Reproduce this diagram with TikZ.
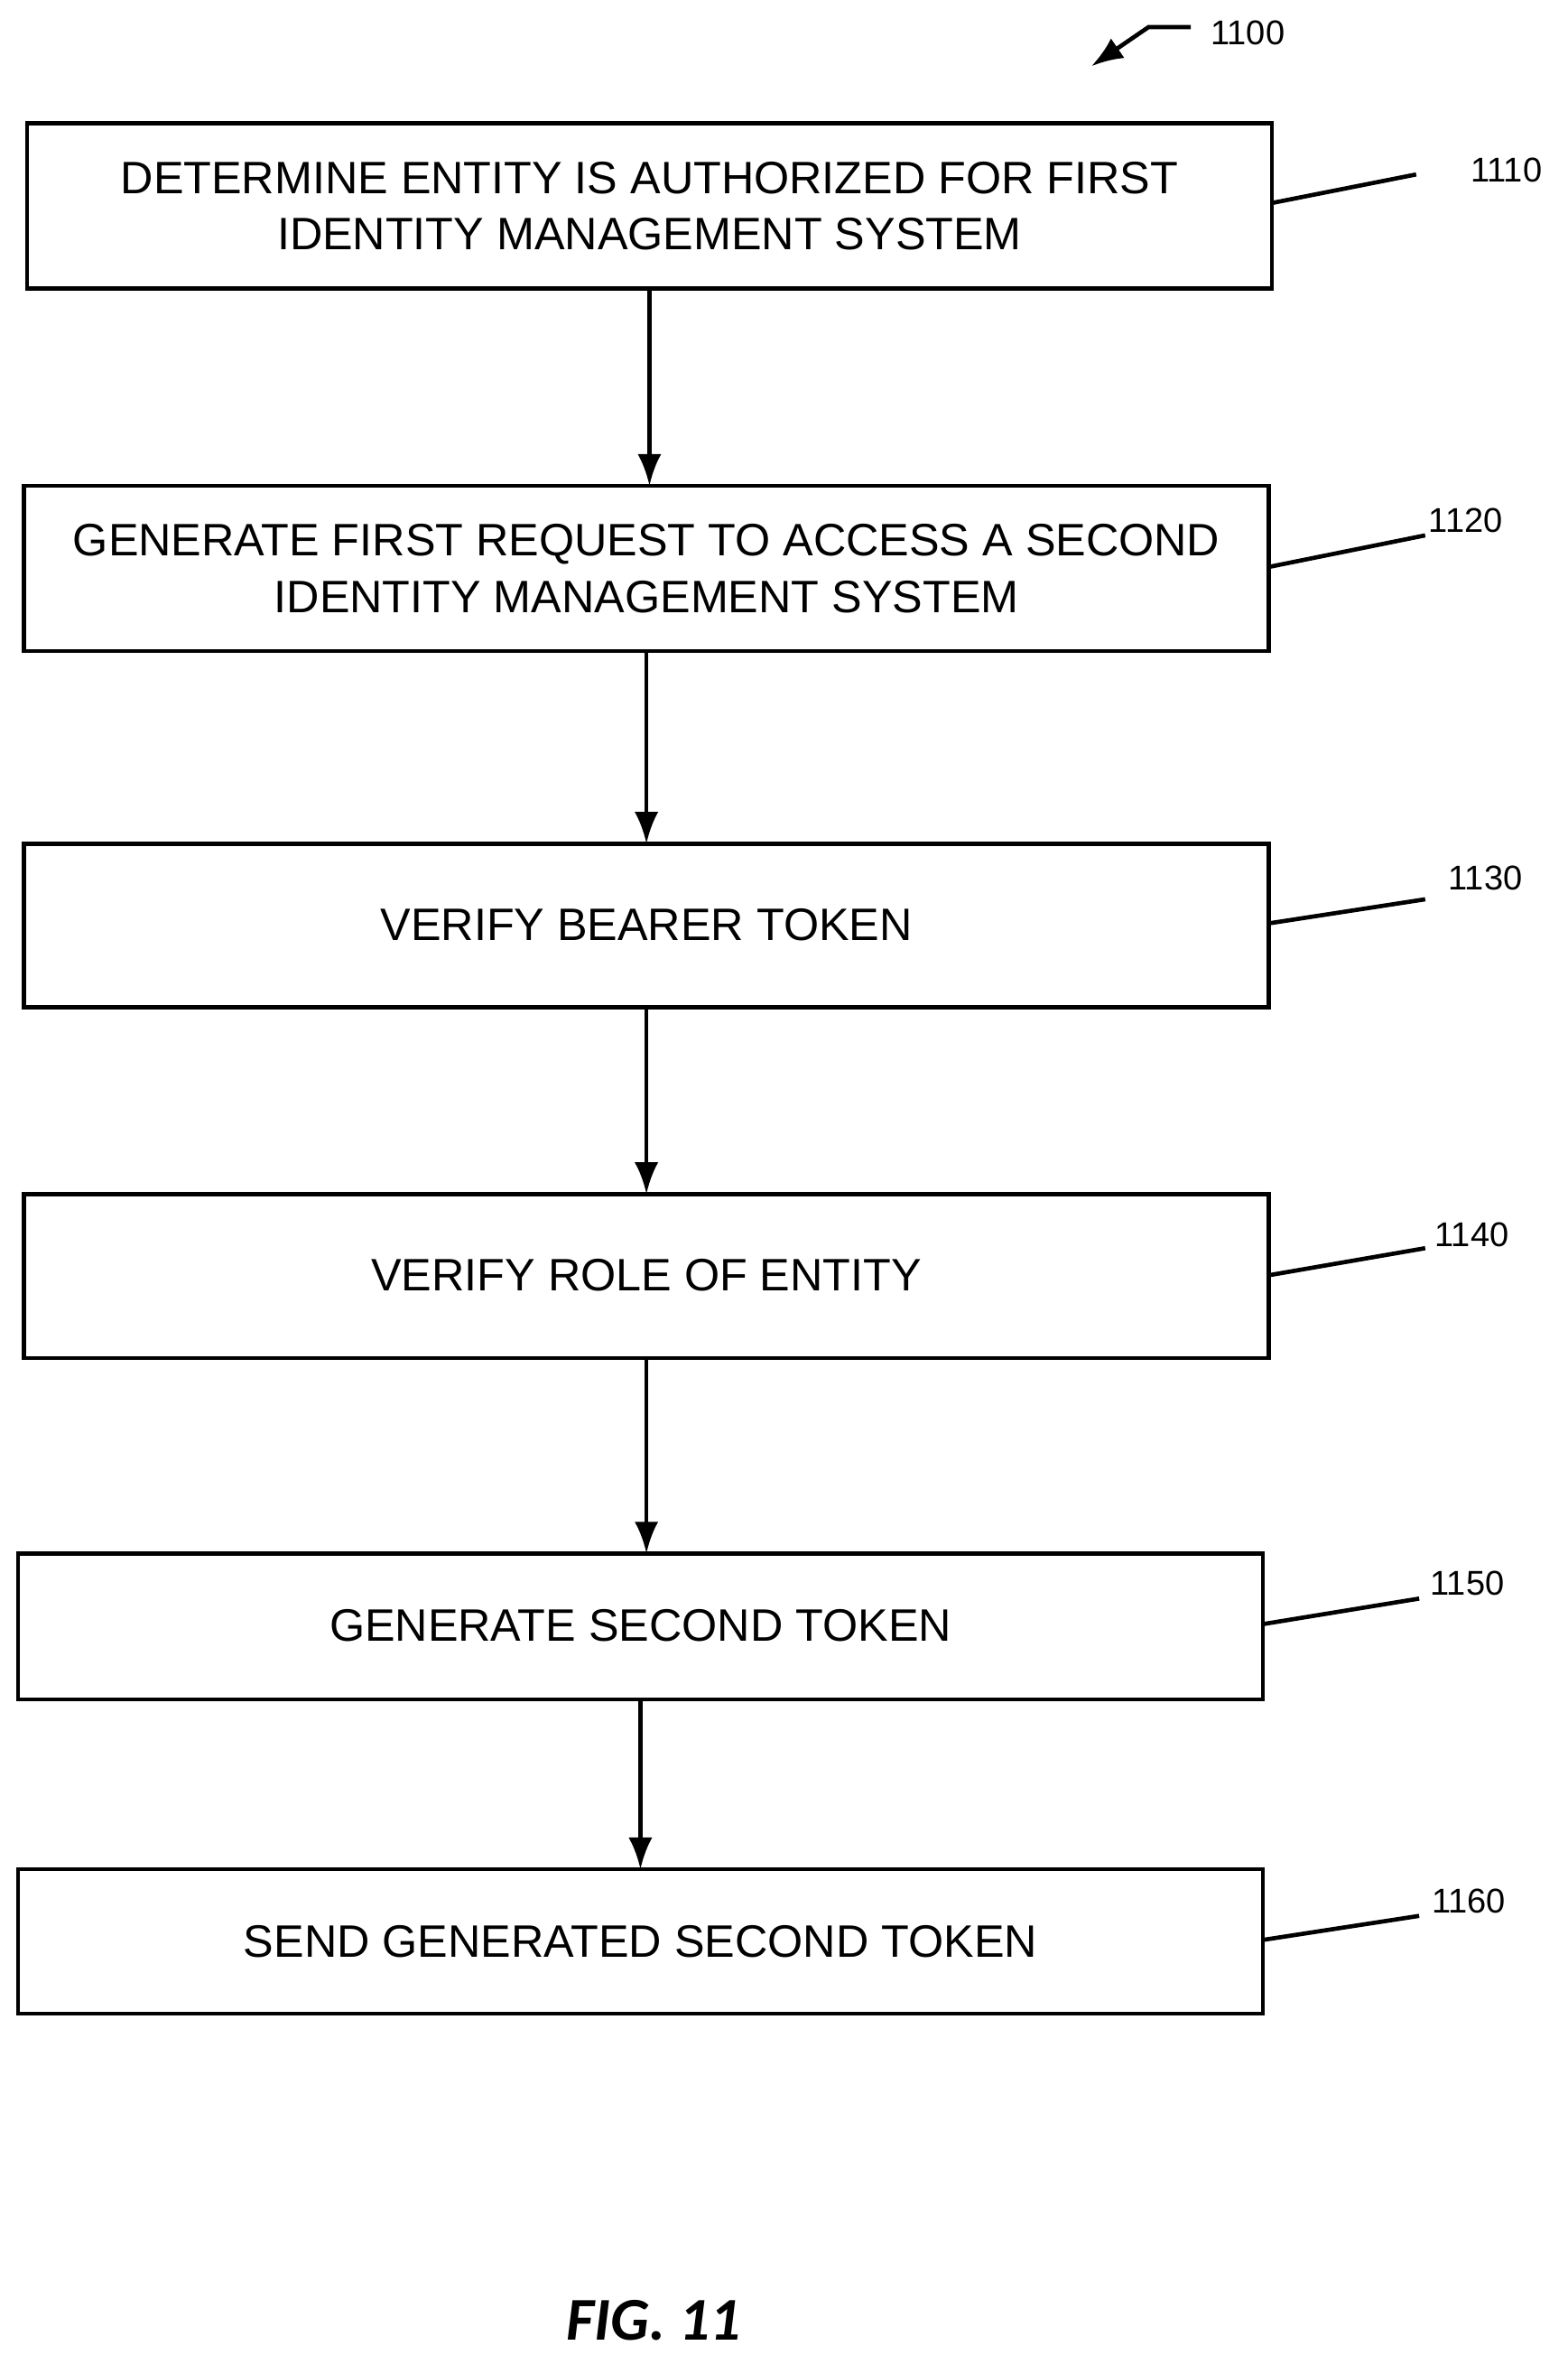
\documentclass[tikz,border=0pt]{standalone}
\usepackage{fontspec}
\setmainfont{Liberation Sans}
\newfontfamily\figfont{Carlito}
\usetikzlibrary{arrows.meta}
\begin{document}
\begin{tikzpicture}[x=0.02cm,y=-0.02cm,
  box/.style={draw,line width=1.6pt,inner sep=0pt},
  txt/.style={font=\fontsize{17.2}{21.5}\selectfont,align=center},
  lbl/.style={font=\fontsize{13}{15}\selectfont},
  arr/.style={line width=1.6pt,-{Latex[length=12pt,width=9pt]}},
  lead/.style={line width=1.6pt}]
\useasboundingbox (0,0) rectangle (1043,1572);
\draw[box] (18,82) rectangle (846,192); \node[txt] (t1) at (432,137) {DETERMINE ENTITY IS AUTHORIZED FOR FIRST\\IDENTITY MANAGEMENT SYSTEM};
\draw[box] (16,323) rectangle (844,433); \node[txt] (t2) at (430,378) {GENERATE FIRST REQUEST TO ACCESS A SECOND\\IDENTITY MANAGEMENT SYSTEM};
\draw[box] (16,561) rectangle (844,670); \node[txt] (t3) at (430,615) {VERIFY BEARER TOKEN};
\draw[box] (16,794) rectangle (844,903); \node[txt] (t4) at (430,848) {VERIFY ROLE OF ENTITY};
\draw[box] (12,1033) rectangle (840,1130); \node[txt] (t5) at (426,1081) {GENERATE SECOND TOKEN};
\draw[box] (12,1243) rectangle (840,1339); \node[txt] (t6) at (426,1291) {SEND GENERATED SECOND TOKEN};
\coordinate (a1) at (432,192); \coordinate (b1) at (432,323);
\coordinate (a2) at (430,433); \coordinate (b2) at (430,561);
\coordinate (a3) at (430,670); \coordinate (b3) at (430,794);
\coordinate (a4) at (430,903); \coordinate (b4) at (430,1033);
\coordinate (a5) at (426,1130); \coordinate (b5) at (426,1243);
\foreach \i in {1,...,5} \draw[arr] (a\i) -- (b\i);
\node[lbl] (l1) at (1002,113) {1110}; \draw[lead] (846,135) -- (942,116);
\node[lbl] (l2) at (975,346) {1120}; \draw[lead] (844,377) -- (948,356);
\node[lbl] (l3) at (988,584) {1130}; \draw[lead] (844,614) -- (948,598);
\node[lbl] (l4) at (979,821) {1140}; \draw[lead] (844,848) -- (948,830);
\node[lbl] (l5) at (976,1053) {1150}; \draw[lead] (840,1080) -- (944,1063);
\node[lbl] (l6) at (977,1264) {1160}; \draw[lead] (840,1290) -- (944,1274);
\node[lbl] (l0) at (830,22) {1100};
\draw[arr] (792,18) -- (764,18) -- (726,44);
\node[font=\figfont\fontsize{23}{27}\selectfont\bfseries\itshape] (fig) at (435,1543) {FIG. 11};
\end{tikzpicture}
\end{document}
